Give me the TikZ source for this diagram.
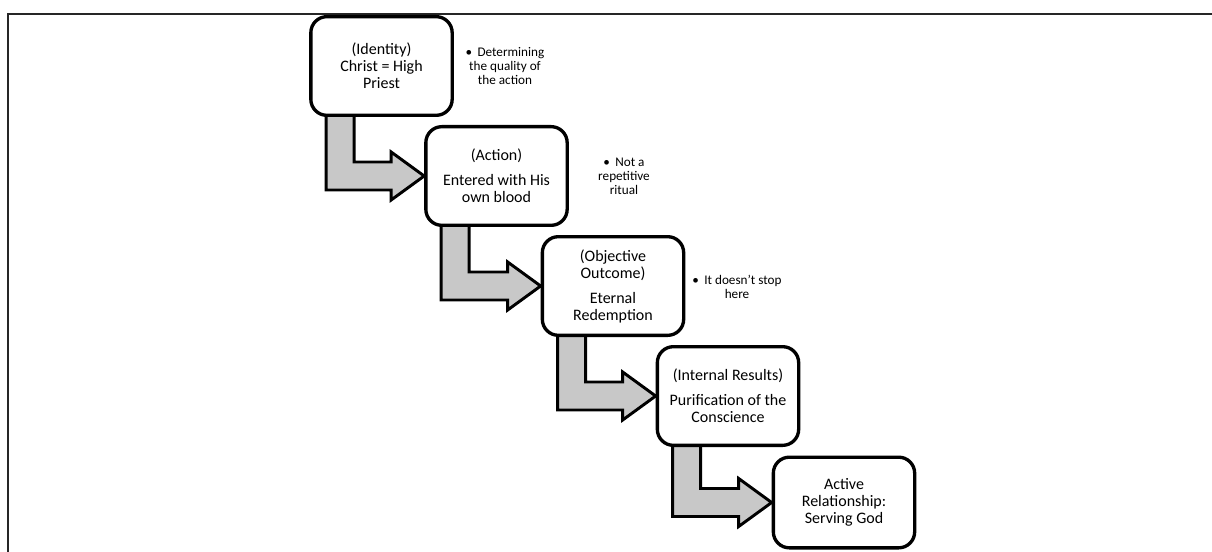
\documentclass[tikz,border=0pt]{standalone}
\usepackage{fontspec}
\setmainfont{Carlito}
\usetikzlibrary{calc,backgrounds}
\definecolor{arrowgray}{RGB}{200,200,200}

\begin{document}
\begin{tikzpicture}[x=0.75pt,y=-0.75pt,
  step box/.style={draw,line width=2.5pt,rounded corners=12pt,fill=white,
    minimum width=106pt,minimum height=74pt,align=center,inner sep=2pt,
    font=\fontsize{12}{12.75}\selectfont},
  note/.style={align=center,font=\fontsize{9.9}{10.6}\selectfont},
  block arrow/.style={draw,line width=2.2pt,fill=arrowgray,line join=miter}]

  \useasboundingbox (0,0) rectangle (1212,552);
  % frame
  \draw[line width=1.4pt,black!85] (1212,14) -- (8,14) -- (8,552);

  \node[step box] (n1) at (381.5,66) {(Identity)\\Christ = High\\Priest};
  \node[step box] (n2) at (496.5,176) {(Action)\\[6pt]Entered with His\\own blood};
  \node[step box] (n3) at (613,286) {(Objective\\Outcome)\\[6pt]Eternal\\Redemption};
  \node[step box] (n4) at (728,396) {(Internal Results)\\[6pt]Purification of the\\Conscience};
  \node[step box,minimum height=68pt] (n5) at (844,502.5) {Active\\Relationship:\\Serving God};

  \node[note] (c1) at (505,66) {\textbullet\hspace{4pt}Determining\\the quality of\\the action};
  \node[note] (c2) at (624,176) {\textbullet\hspace{4pt}Not a\\repetitive\\ritual};
  \node[note] (c3) at (737,286.5) {\textbullet\hspace{4pt}It doesn’t stop\\here};

  \begin{scope}[on background layer]
  \draw[block arrow] ($(n1.south west)+(17,-10)$) -- ($(n1.south west)+(45,-10)$)
    |- ($(n2.west)+(-33,-14)$) -- ++(0,-10) -- (n2.west) -- ++(-33,24) -- ++(0,-10)
    -| ($(n1.south west)+(17,-10)$) -- cycle;
  \draw[block arrow] ($(n2.south west)+(17,-10)$) -- ($(n2.south west)+(45,-10)$)
    |- ($(n3.west)+(-33,-14)$) -- ++(0,-10) -- (n3.west) -- ++(-33,24) -- ++(0,-10)
    -| ($(n2.south west)+(17,-10)$) -- cycle;
  \draw[block arrow] ($(n3.south west)+(17,-10)$) -- ($(n3.south west)+(45,-10)$)
    |- ($(n4.west)+(-33,-14)$) -- ++(0,-10) -- (n4.west) -- ++(-33,24) -- ++(0,-10)
    -| ($(n3.south west)+(17,-10)$) -- cycle;
  \draw[block arrow] ($(n4.south west)+(17,-10)$) -- ($(n4.south west)+(45,-10)$)
    |- ($(n5.west)+(-33,-14)$) -- ++(0,-10) -- (n5.west) -- ++(-33,24) -- ++(0,-10)
    -| ($(n4.south west)+(17,-10)$) -- cycle;
  \end{scope}
\end{tikzpicture}
\end{document}
